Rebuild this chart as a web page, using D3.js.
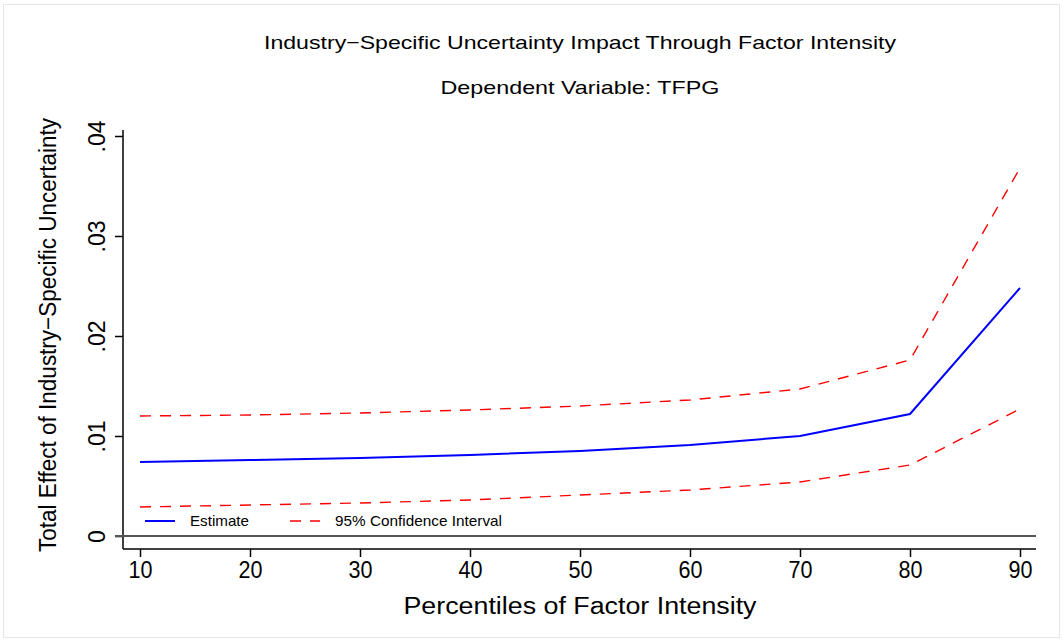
<!DOCTYPE html>
<html>
<head>
<meta charset="utf-8">
<script src="https://cdn.jsdelivr.net/npm/d3@7"></script>
<style>
  body { margin: 0; background: #fff; }
  text { font-family: "Liberation Sans", Arial, sans-serif; fill: #000; }
</style>
</head>
<body>
<div id="chart"></div>
<script>
var percentiles = [10, 20, 30, 40, 50, 60, 70, 80, 90];
var estimate = [0.0074, 0.0076, 0.0078, 0.0081, 0.0085, 0.0091, 0.0100, 0.0122, 0.0248];
var upperCI = [0.0120, 0.0121, 0.0123, 0.0126, 0.0130, 0.0136, 0.0147, 0.0176, 0.0368];
var lowerCI = [0.0029, 0.0031, 0.0033, 0.0036, 0.0041, 0.0046, 0.0054, 0.0071, 0.0127];
var yTicks = [0, 0.01, 0.02, 0.03, 0.04];
var yTickLabels = ["0", ".01", ".02", ".03", ".04"];

function init() {
  var w = 1063, h = 641;

  var svg = d3.select("#chart").append("svg")
    .attr("width", w)
    .attr("height", h);

  // light outer frame
  svg.append("rect")
    .attr("x", 3.5).attr("y", 4.5)
    .attr("width", 1056).attr("height", 633)
    .attr("fill", "none")
    .attr("stroke", "#e6e6e6");

  var x = d3.scaleLinear().domain([10, 90]).range([140, 1020]);
  var y = d3.scaleLinear().domain([0, 0.04]).range([536, 136]);

  var axisLeft = 123, axisBottom = 549, plotRight = 1036, plotTop = 130;

  // titles
  svg.append("text")
    .attr("x", 580).attr("y", 49)
    .attr("text-anchor", "middle")
    .attr("font-size", 19)
    .attr("textLength", 632).attr("lengthAdjust", "spacingAndGlyphs")
    .text("Industry\u2212Specific Uncertainty Impact Through Factor Intensity");

  svg.append("text")
    .attr("x", 580).attr("y", 94)
    .attr("text-anchor", "middle")
    .attr("font-size", 19)
    .attr("textLength", 279).attr("lengthAdjust", "spacingAndGlyphs")
    .text("Dependent Variable: TFPG");

  // y axis
  var yAxis = d3.axisLeft(y)
    .tickValues(yTicks)
    .tickFormat(function(d, i) { return yTickLabels[i]; })
    .tickSize(8)
    .tickPadding(6);

  var gy = svg.append("g")
    .attr("transform", "translate(" + axisLeft + ",0)")
    .call(yAxis);
  gy.select(".domain").remove();
  gy.append("line")
    .attr("x1", 0).attr("x2", 0)
    .attr("y1", plotTop).attr("y2", axisBottom)
    .attr("stroke", "#000").attr("stroke-width", 1.5);
  gy.selectAll(".tick line").attr("stroke-width", 1.5);
  gy.selectAll(".tick text")
    .attr("font-size", 23)
    .attr("font-family", "Liberation Sans, Arial, sans-serif")
    .attr("text-anchor", "middle")
    .attr("transform", "translate(-26,0) rotate(-90)")
    .attr("x", 0).attr("y", 0)
    .attr("dy", "0.35em");

  // x axis
  var xAxis = d3.axisBottom(x)
    .tickValues(percentiles)
    .tickSize(8)
    .tickPadding(5);

  var gx = svg.append("g")
    .attr("transform", "translate(0," + axisBottom + ")")
    .call(xAxis);
  gx.select(".domain").remove();
  gx.append("line")
    .attr("x1", axisLeft).attr("x2", plotRight)
    .attr("y1", 0).attr("y2", 0)
    .attr("stroke", "#000").attr("stroke-width", 1.5);
  gx.selectAll(".tick line").attr("stroke-width", 1.5);
  gx.selectAll(".tick text")
    .attr("font-size", 23)
    .attr("font-family", "Liberation Sans, Arial, sans-serif")
    .attr("textLength", 24).attr("lengthAdjust", "spacingAndGlyphs");

  // axis titles
  svg.append("text")
    .attr("x", 580).attr("y", 614)
    .attr("text-anchor", "middle")
    .attr("font-size", 23)
    .attr("textLength", 353).attr("lengthAdjust", "spacingAndGlyphs")
    .text("Percentiles of Factor Intensity");

  svg.append("text")
    .attr("transform", "translate(56,335) rotate(-90)")
    .attr("text-anchor", "middle")
    .attr("font-size", 23)
    .attr("textLength", 434).attr("lengthAdjust", "spacingAndGlyphs")
    .text("Total Effect of Industry\u2212Specific Uncertainty");

  // zero reference line
  svg.append("line")
    .attr("x1", 115).attr("x2", plotRight)
    .attr("y1", y(0)).attr("y2", y(0))
    .attr("stroke", "#555").attr("stroke-width", 2);

  var line = d3.line()
    .x(function(d, i) { return x(percentiles[i]); })
    .y(function(d) { return y(d); });

  [upperCI, lowerCI].forEach(function(s) {
    svg.append("path")
      .attr("d", line(s))
      .attr("fill", "none")
      .attr("stroke", "#ff0000")
      .attr("stroke-width", 1.4)
      .attr("stroke-dasharray", "11,9");
  });

  svg.append("path")
    .attr("d", line(estimate))
    .attr("fill", "none")
    .attr("stroke", "#0000ff")
    .attr("stroke-width", 2);

  // legend
  var lg = svg.append("g");
  lg.append("line")
    .attr("x1", 145).attr("x2", 175).attr("y1", 521).attr("y2", 521)
    .attr("stroke", "#0000ff").attr("stroke-width", 2);
  lg.append("text")
    .attr("x", 190).attr("y", 526)
    .attr("font-size", 15)
    .attr("textLength", 59).attr("lengthAdjust", "spacingAndGlyphs")
    .text("Estimate");
  lg.append("line")
    .attr("x1", 290).attr("x2", 320).attr("y1", 521).attr("y2", 521)
    .attr("stroke", "#ff0000").attr("stroke-width", 1.4)
    .attr("stroke-dasharray", "11,9");
  lg.append("text")
    .attr("x", 335).attr("y", 526)
    .attr("font-size", 15)
    .attr("textLength", 167).attr("lengthAdjust", "spacingAndGlyphs")
    .text("95% Confidence Interval");
}

window.onload = init;
</script>
</body>
</html>
